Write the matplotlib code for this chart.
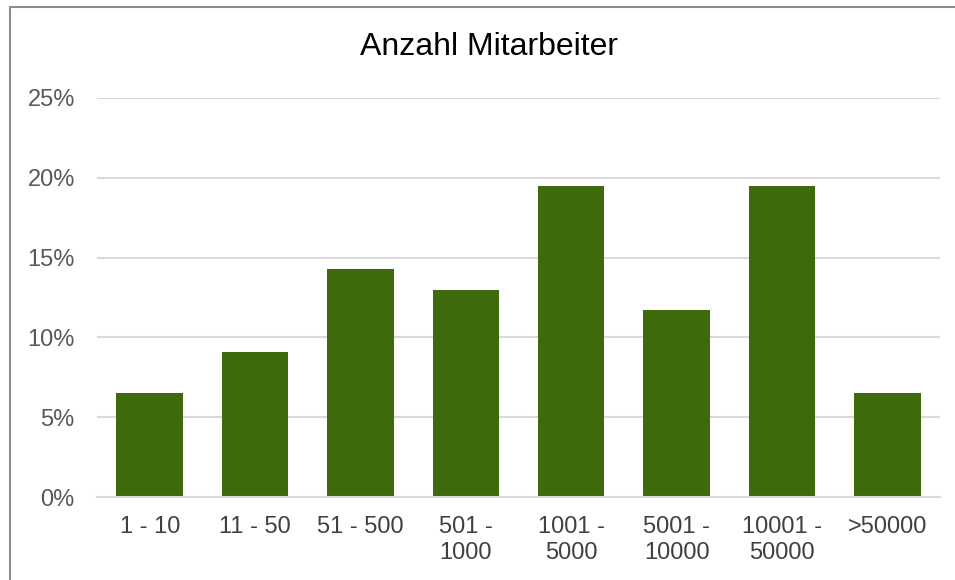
import matplotlib
matplotlib.use("Agg")
import matplotlib.pyplot as plt
from matplotlib.patches import Rectangle
from matplotlib.ticker import FuncFormatter, MultipleLocator

categories = ["1 - 10", "11 - 50", "51 - 500", "501 -\n1000", "1001 -\n5000",
              "5001 -\n10000", "10001 -\n50000", ">50000"]
values = [6.5, 9.1, 14.3, 13.0, 19.5, 11.7, 19.5, 6.5]
title = "Anzahl Mitarbeiter"

plt.rcParams['font.family'] = ['Liberation Sans', 'DejaVu Sans']

W, H = 955, 580
fig = plt.figure(figsize=(W / 100, H / 100), dpi=100)
ax = fig.add_axes([97 / W, 1 - 497 / H, (940 - 97) / W, (497 - 98) / H])

x = list(range(len(categories)))
ax.bar(x, values, width=0.63, color="#3E6A0B", zorder=3)
ax.set_xlim(-0.5, len(categories) - 0.5)
ax.set_ylim(0, 25)
ax.yaxis.set_major_locator(MultipleLocator(5))
ax.yaxis.set_major_formatter(FuncFormatter(lambda v, p: f"{v:.0f}%"))
ax.grid(axis="y", color="#D9D9D9", linewidth=1.5, zorder=0)
ax.set_axisbelow(True)
for s in ["top", "right", "left"]:
    ax.spines[s].set_visible(False)
ax.spines["bottom"].set_color("#D9D9D9")
ax.spines["bottom"].set_linewidth(1.5)
ax.spines["bottom"].set_zorder(4)

ax.set_xticks(x)
ax.set_xticklabels(categories, fontsize=17, color="#404040", linespacing=1.22)
ax.tick_params(axis="x", length=0, pad=14)
ax.tick_params(axis="y", length=0, pad=16, labelsize=17, labelcolor="#595959")

fig.text(489 / W, 1 - 47 / H, title, fontsize=23, color="black",
         ha="center", va="center")

fig.patches.append(Rectangle((10 / W, -0.1), 1.2, 1.1 - 7 / H, transform=fig.transFigure,
                             fill=False, edgecolor="#8C8C8C", linewidth=1.5))

fig.savefig("out.png", dpi=100, facecolor="white")
